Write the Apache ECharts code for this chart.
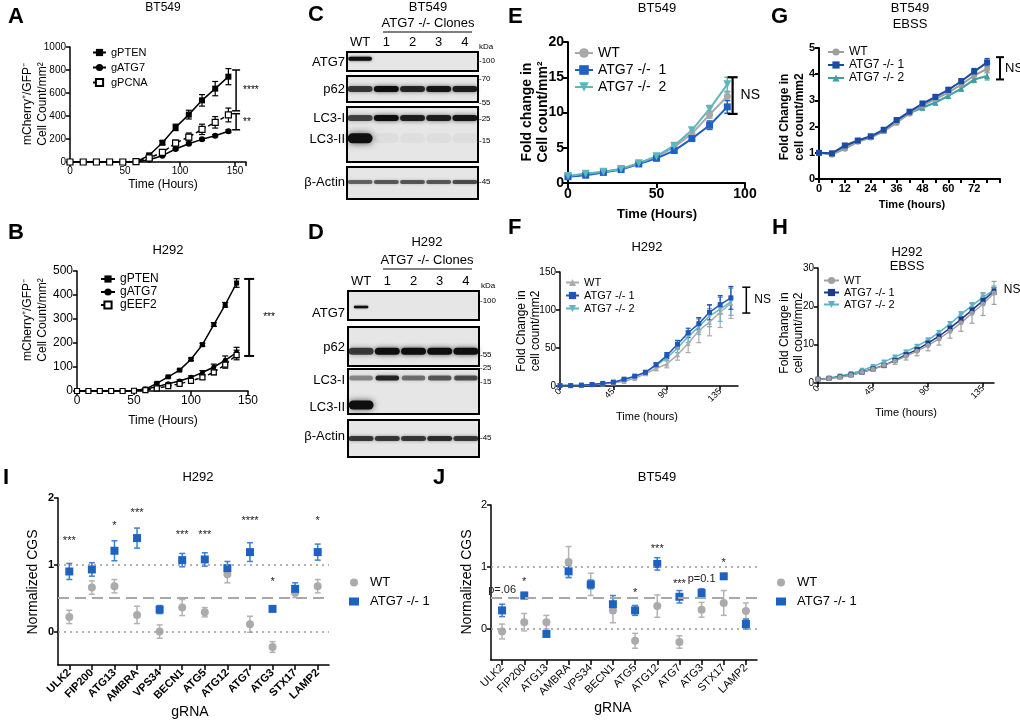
<!DOCTYPE html>
<html><head><meta charset="utf-8">
<script src="https://cdn.jsdelivr.net/npm/echarts@6/dist/echarts.min.js"></script>
<style>html,body{margin:0;padding:0;background:#fff}#c{width:1020px;height:721px}</style>
</head><body><div id="c"></div><script>
// ---------------- DATA ----------------
const timeA = [0,12,24,36,48,60,72,84,96,108,120,132,144];
const A_gPTEN = [0,0,0,0,0,2,58,168,301,412,536,638,742];
const A_gPTEN_err = [0,0,0,0,0,3,12,18,28,38,50,62,70];
const A_gATG7 = [0,0,0,0,0,1,20,55,113,159,197,229,267];
const A_gATG7_err = [0,0,0,0,0,2,4,6,8,9,10,10,12];
const A_gPCNA = [0,0,0,0,0,3,35,84,165,217,284,345,409];
const A_gPCNA_err = [0,0,0,0,0,3,8,15,25,35,45,50,60];
const A_brackets = [[151,800,445],[151,420,280]];
const A_bracketLabels = ['****','**'];

const timeB = [0,10,20,30,40,50,60,70,80,90,100,110,120,130,140];
const B_gPTEN = [0,0,0,0,0,2,8,32,59,87,132,193,277,359,450];
const B_gPTEN_err = [0,0,0,0,0,1,2,3,3,4,5,6,8,10,18];
const B_gATG7 = [0,0,0,0,0,1,8,18,30,42,57,77,100,128,160];
const B_gATG7_err = [0,0,0,0,0,1,2,3,4,5,6,8,12,18,22];
const B_gEEF2 = [0,0,0,0,0,1,4,11,20,30,42,57,78,110,150];
const B_gEEF2_err = [0,0,0,0,0,1,2,3,4,5,6,8,10,15,20];
const B_brackets = [[151,467,146]];
const B_bracketLabels = ['***'];

const lanes = ['WT','1','2','3','4'];
const C_ATG7 = [1.0,0,0,0,0];
const C_p62 = [0.75,1.0,0.85,0.95,0.9];
const C_LC3I = [0.7,1.0,0.9,0.9,0.95];
const C_LC3II = [1.0,0.04,0.03,0.03,0.03];
const C_actin = [0.55,0.6,0.6,0.6,0.65];
const D_ATG7 = [1.0,0,0,0,0];
const D_p62 = [0.75,1.0,1.0,1.0,1.0];
const D_LC3I = [0.4,0.85,0.5,0.6,0.65];
const D_LC3II = [1.0,0,0,0,0];
const D_actin = [0.75,0.75,0.75,0.8,0.75];

const timeE = [0,10,20,30,40,50,60,70,80,90];
const E_WT = [1.0,1.3,1.6,2.0,2.8,3.7,5.1,7.0,9.7,12.3];
const E_WT_err = [0.05,0.1,0.1,0.1,0.15,0.2,0.25,0.35,0.5,0.6];
const E_A1 = [0.9,1.1,1.5,1.9,2.7,3.5,4.6,6.3,8.2,10.8];
const E_A1_err = [0.05,0.1,0.1,0.1,0.15,0.2,0.25,0.35,0.6,0.9];
const E_A2 = [1.0,1.3,1.6,2.0,2.8,3.8,5.3,7.5,10.5,14.0];
const E_A2_err = [0.05,0.1,0.1,0.1,0.15,0.2,0.25,0.35,0.5,1.0];
const E_brackets = [[93,15.0,9.8]];
const E_bracketLabels = ['NS'];

const timeF = [0,9,18,27,36,45,54,63,72,81,90,99,108,117,126,135,144];
const F_WT = [0.5,0.7,1,1.5,2.5,4,6,10,16,23,29,41,56,73,84,97,109];
const F_WT_err = [0,0,0,0.3,0.5,0.5,1,1.5,2,3,5,7,12,16,18,20,20];
const F_A1 = [0.5,0.5,1,2,3.5,5,9,13,18,28,40,55,70,82,97,107,116];
const F_A1_err = [0,0,0,0.3,0.5,0.5,1,1,2,2,4,5,6,8,10,12,15];
const F_A2 = [0.5,0.5,1,2,3,5,8,12,18,27,37,50,65,78,92,101,111];
const F_A2_err = [0,0,0,0.3,0.5,0.5,1,1,2,3,4,6,8,10,14,16,18];
const F_brackets = [[157,130,96]];
const F_bracketLabels = ['NS'];

const timeG = [0,6,12,18,24,30,36,42,48,54,60,66,72,78];
const G_WT = [1.0,0.93,1.15,1.42,1.58,1.82,2.15,2.5,2.8,3.05,3.3,3.6,3.95,4.2];
const G_A1 = [1.0,0.98,1.28,1.47,1.63,1.88,2.25,2.57,2.88,3.13,3.4,3.73,4.1,4.45];
const G_A2 = [1.0,0.95,1.2,1.45,1.6,1.83,2.18,2.52,2.72,2.92,3.17,3.45,3.8,3.93];
const G_err = [0.04,0.04,0.06,0.06,0.06,0.06,0.08,0.08,0.08,0.1,0.1,0.1,0.12,0.15];
const G_brackets = [[84,4.65,3.8]];
const G_bracketLabels = ['NS'];

const timeH = [0,9,18,27,36,45,54,63,72,81,90,99,108,117,126,135,144];
const H_WT = [1,1.2,1.5,2,2.8,3.6,4.6,5.7,7.0,8.3,9.8,11.5,13.5,15.7,18.2,20.6,23.5];
const H_WT_err = [0.2,0.2,0.3,0.3,0.4,0.5,0.6,0.8,1.0,1.2,1.4,1.6,1.8,2.2,2.6,3.0,3.0];
const H_A1 = [1,1.2,1.6,2.1,2.8,3.7,4.6,5.9,7.4,8.7,10.4,12.2,14.3,16.6,19.0,21.5,24.0];
const H_A1_err = [0.1,0.1,0.1,0.2,0.2,0.2,0.3,0.3,0.4,0.4,0.5,0.5,0.6,0.7,0.8,0.9,0.9];
const H_A2 = [1,1.3,1.8,2.5,3.3,4.3,5.5,6.8,8.1,9.6,11.2,13.2,15.4,17.9,20.2,22.4,24.3];
const H_A2_err = [0.1,0.1,0.1,0.2,0.2,0.2,0.3,0.3,0.4,0.4,0.5,0.5,0.6,0.7,0.8,0.9,1.0];
const H_text = [[152,24.3]];
const H_textLabels = ['NS'];

const gRNAs = ['ULK2','FIP200','ATG13','AMBRA','VPS34','BECN1','ATG5','ATG12','ATG7','ATG3','STX17','LAMP2'];
const I_WT = [0.22,0.66,0.68,0.25,0.0,0.36,0.29,0.86,0.11,-0.23,0.58,0.68];
const I_WT_err = [0.1,0.1,0.1,0.13,0.1,0.12,0.07,0.13,0.12,0.08,0.07,0.1];
const I_KO = [0.90,0.93,1.21,1.40,0.33,1.07,1.08,0.95,1.19,0.34,0.64,1.19];
const I_KO_err = [0.12,0.1,0.15,0.15,0.06,0.1,0.1,0.1,0.14,0.03,0.09,0.12];
const I_sig = [[0,1.36],[2,1.58],[3,1.78],[5,1.45],[6,1.45],[8,1.65],[9,0.74],[11,1.65]];
const I_sigLabels = ['***','*','***','***','***','****','*','*'];

const J_WT = [-0.04,0.11,0.11,1.08,0.72,0.30,-0.19,0.37,-0.21,0.31,0.42,0.29];
const J_WT_err = [0.12,0.14,0.11,0.25,0.18,0.2,0.12,0.18,0.1,0.12,0.2,0.13];
const J_KO = [0.30,0.54,-0.08,0.93,0.72,0.40,0.30,1.05,0.52,0.58,0.85,0.08];
const J_KO_err = [0.1,0.05,0.02,0.1,0.07,0.14,0.08,0.1,0.1,0.07,0.03,0.08];
const J_sig = [[0,0.63],[1,0.76],[6,0.58],[7,1.29],[8,0.73],[9,0.81],[10,1.07]];
const J_sigLabels = ['p=.06','*','*','***','***','p=0.1','*'];

// ---------------- BUILD ----------------
const FONT = 'Liberation Sans, Arial, sans-serif';
const grids=[], xAxes=[], yAxes=[], series=[], legends=[], graphics=[];
function isObj(o){return o && typeof o==='object' && !Array.isArray(o);}
function merge(a,b){const r=Object.assign({},a);for(const k in (b||{})){r[k]=(isObj(a[k])&&isObj(b[k]))?merge(a[k],b[k]):b[k];}return r;}
function addGrid(g){grids.push(merge({show:false},g));return grids.length-1;}
function valAxis(gi,min,max,interval,fs,bold,lw,extra){
  return merge({gridIndex:gi,type:'value',min,max,interval,splitLine:{show:false},
    axisLine:{show:true,onZero:false,lineStyle:{color:'#000',width:lw}},
    axisTick:{show:true,length:4,lineStyle:{color:'#000',width:lw}},
    axisLabel:{color:'#000',fontSize:fs,fontWeight:bold?'bold':'normal',fontFamily:FONT,margin:4,formatter:v=>String(v)}},extra);
}
function addAxes(xa,ya){xAxes.push(xa);yAxes.push(ya);return [xAxes.length-1,yAxes.length-1];}
function lineS(name,ax,xs,ys,color,symbol,size,lw,extra){
  series.push(merge({type:'line',name,xAxisIndex:ax[0],yAxisIndex:ax[1],data:xs.map((x,i)=>[x,ys[i]]),
    symbol,symbolSize:size,showSymbol:true,z:4,lineStyle:{color,width:lw},itemStyle:{color,borderColor:color,borderWidth:0}},extra));
}
function scatterS(name,ax,ys,color,symbol,size){
  series.push({type:'scatter',name,xAxisIndex:ax[0],yAxisIndex:ax[1],data:ys.map((y,i)=>[i,y]),symbol,symbolSize:size,z:4,itemStyle:{color,opacity:1}});
}
function errS(ax,xs,ys,es,color,cap,lw){
  series.push({type:'custom',xAxisIndex:ax[0],yAxisIndex:ax[1],silent:true,z:3,clip:false,
    data:xs.map((x,i)=>[x,ys[i]-es[i],ys[i]+es[i]]),
    renderItem:(p,api)=>{
      const lo=api.coord([api.value(0),api.value(1)]),hi=api.coord([api.value(0),api.value(2)]);
      const st={stroke:color,lineWidth:lw};
      return {type:'group',children:[
        {type:'line',shape:{x1:lo[0],y1:lo[1],x2:hi[0],y2:hi[1]},style:st},
        {type:'line',shape:{x1:lo[0]-cap,y1:lo[1],x2:lo[0]+cap,y2:lo[1]},style:st},
        {type:'line',shape:{x1:hi[0]-cap,y1:hi[1],x2:hi[0]+cap,y2:hi[1]},style:st}]};
    }});
}
function bracketS(ax,pts,labels,o){
  series.push({type:'custom',xAxisIndex:ax[0],yAxisIndex:ax[1],silent:true,z:5,clip:false,data:pts,
    renderItem:(p,api)=>{
      const a=api.coord([api.value(0),api.value(1)]),b=api.coord([api.value(0),api.value(2)]);
      const st={stroke:'#000',lineWidth:o.lw},c=o.cap;
      const ch=[{type:'line',shape:{x1:a[0],y1:a[1],x2:b[0],y2:b[1]},style:st},
        {type:'line',shape:{x1:a[0]-c,y1:a[1],x2:a[0]+c,y2:a[1]},style:st},
        {type:'line',shape:{x1:b[0]-c,y1:b[1],x2:b[0]+c,y2:b[1]},style:st}];
      const lab=labels[p.dataIndex];
      if(lab) ch.push({type:'text',x:a[0]+o.dx,y:(a[1]+b[1])/2+(o.dy||0),style:{text:lab,fontSize:o.fs,fontFamily:FONT,fontWeight:o.bold?'bold':'normal',fill:'#000',align:'left',verticalAlign:'middle'}});
      return {type:'group',children:ch};
    }});
}
function textS(ax,pts,labels,fs,align,color){
  series.push({type:'custom',xAxisIndex:ax[0],yAxisIndex:ax[1],silent:true,z:6,clip:false,data:pts,
    renderItem:(p,api)=>{
      const a=api.coord([api.value(0),api.value(1)]);
      return {type:'text',x:a[0],y:a[1],style:{text:labels[p.dataIndex],fontSize:fs,fontFamily:FONT,fill:color||'#000',align:align||'center',verticalAlign:'middle'}};
    }});
}
function legend(names,left,top,iw,ih,gap,fs,extra){
  legends.push(merge({show:true,orient:'vertical',left,top,itemWidth:iw,itemHeight:ih,itemGap:gap,data:names,selectedMode:false,padding:0,
    formatter:n=>n.split('|')[1],textStyle:{fontSize:fs,fontFamily:FONT,color:'#000'}},extra));
}
function txt(x,y,t,fs,opt){
  opt=opt||{};
  graphics.push({type:'text',x,y,rotation:opt.rot||0,silent:true,style:{text:t,fontSize:fs,fontFamily:FONT,fontWeight:opt.bold?'bold':'normal',fill:'#000',align:opt.align||'center',verticalAlign:'middle',lineHeight:opt.lh||fs*1.2}});
}
function hline(x1,x2,y,lw){graphics.push({type:'line',silent:true,shape:{x1,y1:y,x2,y2:y},style:{stroke:'#000',lineWidth:lw||1}});}

// ---- Panel A ----
{
  const g=addGrid({left:70,top:47,width:176,height:115});
  const ax=addAxes(valAxis(g,0,160,50,10,false,1.5,{axisLabel:{formatter:v=>v===160?'':String(v)}}),valAxis(g,0,1000,200,10,false,1.5));
  errS(ax,timeA,A_gPTEN,A_gPTEN_err,'#000',3,1.2);
  errS(ax,timeA,A_gPCNA,A_gPCNA_err,'#000',3,1.2);
  errS(ax,timeA,A_gATG7,A_gATG7_err,'#000',3,1.2);
  lineS('A|gPTEN',ax,timeA,A_gPTEN,'#000','rect',6,1.5);
  lineS('A|gATG7',ax,timeA,A_gATG7,'#000','circle',6,1.5);
  lineS('A|gPCNA',ax,timeA,A_gPCNA,'#000','rect',6,1.5,{lineStyle:{type:[4,3]},itemStyle:{color:'#fff',borderColor:'#000',borderWidth:1.2}});
  bracketS(ax,A_brackets,A_bracketLabels,{lw:1.5,cap:4,dx:7,fs:10});
  legend(['A|gPTEN','A|gATG7','A|gPCNA'],92,47,13,9,4,11);
  txt(163,8,'BT549',12); txt(163,185,'Time (Hours)',12);
  txt(28,104,'mCherry\u207A/GFP\u207B',12,{rot:Math.PI/2}); txt(43,104,'Cell Count/mm\u00B2',12,{rot:Math.PI/2});
}
// ---- Panel B ----
{
  const g=addGrid({left:77,top:271,width:171,height:120});
  const ax=addAxes(valAxis(g,0,150,50,12,false,1.5),valAxis(g,0,500,100,12,false,1.5));
  errS(ax,timeB,B_gPTEN,B_gPTEN_err,'#000',3,1.2);
  errS(ax,timeB,B_gEEF2,B_gEEF2_err,'#000',3,1.2);
  errS(ax,timeB,B_gATG7,B_gATG7_err,'#000',3,1.2);
  lineS('B|gPTEN',ax,timeB,B_gPTEN,'#000','rect',5,1.5);
  lineS('B|gATG7',ax,timeB,B_gATG7,'#000','circle',5,1.5);
  lineS('B|gEEF2',ax,timeB,B_gEEF2,'#000','rect',5,1.5,{lineStyle:{type:[4,3]},itemStyle:{color:'#fff',borderColor:'#000',borderWidth:1.2}});
  bracketS(ax,B_brackets,B_bracketLabels,{lw:2,cap:5,dx:14,fs:10});
  legend(['B|gPTEN','B|gATG7','B|gEEF2'],100,273,14,9,1,12);
  txt(168,250,'H292',13); txt(163,421,'Time (Hours)',12);
  txt(28,320,'mCherry\u207A/GFP\u207B',12,{rot:Math.PI/2}); txt(43,320,'Cell Count/mm\u00B2',12,{rot:Math.PI/2});
}
// ---- Blots C, D ----
function blotBox(left,top,w,h,rows,showLanes){
  const g=addGrid({show:true,left,top,width:w,height:h,backgroundColor:'#e6e6e6',borderColor:'#000',borderWidth:2});
  xAxes.push({gridIndex:g,type:'category',data:lanes,position:'top',show:!!showLanes,axisLine:{show:false},axisTick:{show:false},
    axisLabel:{interval:0,hideOverlap:false,color:'#000',fontSize:13,fontFamily:FONT,margin:3}});
  yAxes.push({gridIndex:g,type:'value',min:0,max:1,inverse:true,show:false});
  const ax=[xAxes.length-1,yAxes.length-1];
  rows.forEach(r=>{
    const [vals,yc,th,wf]=r;
    series.push({type:'custom',xAxisIndex:ax[0],yAxisIndex:ax[1],silent:true,z:2,data:vals.map((v,i)=>[i,v]),
      renderItem:(p,api)=>{
        const v=api.value(1); if(v<=0) return null;
        const c=api.coord([api.value(0),yc]); const wd=api.size([1,0])[0]*wf;
        return {type:'rect',shape:{x:c[0]-wd/2,y:c[1]-th/2,width:wd,height:th,r:th/2},
          style:{fill:'rgba(15,15,15,'+v+')',shadowBlur:th*0.7,shadowColor:'rgba(15,15,15,'+(v*0.7)+')'}};
      }});
  });
}
{
  blotBox(347,52,131,19,[[C_ATG7,0.35,4,0.9]],true);
  blotBox(347,76,131,26,[[C_p62,0.5,6,0.95]]);
  blotBox(347,107,131,55,[[C_LC3I,0.2,6,0.95],[C_LC3II,0.57,10,0.95]]);
  blotBox(347,167,131,32,[[C_actin,0.47,4,0.95]]);
  txt(308,15,'C',22,{bold:true,align:'left'});
  txt(428,7,'BT549',13); txt(428,23,'ATG7 -/- Clones',13); hline(383,472,32,1);
  txt(486,47,'kDa',8);
  [['ATG7',62],['p62',89],['LC3-I',118],['LC3-II',139],['\u03B2-Actin',182]].forEach(a=>txt(345,a[1],a[0],13,{align:'right'}));
  [['-100',61],['-70',79],['-55',103],['-25',119],['-15',141],['-45',182]].forEach(a=>txt(479,a[1],a[0],8,{align:'left'}));
}
{
  blotBox(348,291,131,29,[[D_ATG7,0.55,2.5,0.55]],true);
  blotBox(348,327,131,39,[[D_p62,0.62,7,0.95]]);
  blotBox(348,369,131,45,[[D_LC3I,0.2,5,0.9],[D_LC3II,0.8,9,0.95]]);
  blotBox(348,420,131,37,[[D_actin,0.5,5,0.95]]);
  txt(308,233,'D',22,{bold:true,align:'left'});
  txt(427,242,'H292',13); txt(427,260,'ATG7 -/- Clones',13); hline(383,472,269,1);
  txt(488,286,'kDa',8);
  [['ATG7',313],['p62',347],['LC3-I',380],['LC3-II',407],['\u03B2-Actin',436]].forEach(a=>txt(345,a[1],a[0],13,{align:'right'}));
  [['-100',301],['-55',355],['-25',368],['-15',382],['-45',438]].forEach(a=>txt(480,a[1],a[0],8,{align:'left'}));
}
// ---- Panel E ----
{
  const g=addGrid({left:568,top:42,width:177,height:141});
  const ax=addAxes(valAxis(g,0,100,50,14,true,2,{axisTick:{length:5}}),valAxis(g,0,20,5,14,true,2,{axisTick:{length:5}}));
  const c=['#A8A8A8','#1F60C4','#5FB7BC'];
  errS(ax,timeE,E_WT,E_WT_err,c[0],3,1.5);
  errS(ax,timeE,E_A1,E_A1_err,c[1],3,1.5);
  errS(ax,timeE,E_A2,E_A2_err,c[2],3,1.5);
  lineS('E|WT',ax,timeE,E_WT,c[0],'circle',7,2);
  lineS('E|ATG7 -/-  1',ax,timeE,E_A1,c[1],'rect',7,2);
  lineS('E|ATG7 -/-  2',ax,timeE,E_A2,c[2],'triangle',8,2,{symbolRotate:180});
  bracketS(ax,E_brackets,E_bracketLabels,{lw:2.2,cap:5,dx:8,fs:14});
  legend(['E|WT','E|ATG7 -/-  1','E|ATG7 -/-  2'],574,46,18,12,3,14);
  txt(508,17,'E',22,{bold:true,align:'left'});
  txt(657,8,'BT549',13); txt(657,214,'Time (Hours)',13,{bold:true});
  txt(527,112,'Fold change in',14,{rot:Math.PI/2,bold:true}); txt(543,112,'Cell count/mm\u00B2',14,{rot:Math.PI/2,bold:true});
}
// ---- Panel F ----
{
  const g=addGrid({left:560,top:272,width:178,height:114});
  const ax=addAxes(valAxis(g,0,150,45,9,false,1.5,{axisLabel:{rotate:45,customValues:[0,45,90,135]},axisTick:{customValues:[0,45,90,135]}}),
                   valAxis(g,0,150,50,10,false,1.5));
  const c=['#ABABAB','#2156B8','#64B4C8'];
  errS(ax,timeF,F_WT,F_WT_err,c[0],2.5,1.2);
  errS(ax,timeF,F_A2,F_A2_err,c[2],2.5,1.2);
  errS(ax,timeF,F_A1,F_A1_err,c[1],2.5,1.2);
  lineS('F|WT',ax,timeF,F_WT,c[0],'triangle',5,1.5);
  lineS('F|ATG7 -/- 2',ax,timeF,F_A2,c[2],'triangle',5,1.5,{symbolRotate:180});
  lineS('F|ATG7 -/- 1',ax,timeF,F_A1,c[1],'rect',5,1.5);
  bracketS(ax,F_brackets,F_bracketLabels,{lw:1.5,cap:4,dx:8,fs:12});
  legend(['F|WT','F|ATG7 -/- 1','F|ATG7 -/- 2'],565,277,13,9,2,11);
  txt(508,228,'F',22,{bold:true,align:'left'});
  txt(647,247,'H292',13); txt(647,417,'Time (hours)',11);
  txt(522,331,'Fold Change in',12,{rot:Math.PI/2}); txt(536,331,'cell count/mm2',12,{rot:Math.PI/2});
}
// ---- Panel G ----
{
  const g=addGrid({left:819,top:48,width:181,height:131});
  const ax=addAxes(valAxis(g,0,84,6,11,true,2,{axisLabel:{formatter:v=>(v%12===0&&v<84)?String(v):''},axisTick:{length:4}}),
                   valAxis(g,0,5,1,11,true,2));
  const c=['#9E9E9E','#1A4BA5','#3D9FA0'];
  errS(ax,timeG,G_A2,G_err,c[2],2.5,1.2);
  errS(ax,timeG,G_WT,G_err,c[0],2.5,1.2);
  errS(ax,timeG,G_A1,G_err,c[1],2.5,1.2);
  lineS('G|ATG7 -/- 2',ax,timeG,G_A2,c[2],'triangle',6,2);
  lineS('G|WT',ax,timeG,G_WT,c[0],'circle',6,2);
  lineS('G|ATG7 -/- 1',ax,timeG,G_A1,c[1],'rect',6,2);
  bracketS(ax,G_brackets,G_bracketLabels,{lw:2,cap:4,dx:5,fs:13});
  legend(['G|WT','G|ATG7 -/- 1','G|ATG7 -/- 2'],827,46,16,9,1,12);
  txt(771,17,'G',22,{bold:true,align:'left'});
  txt(910,8,'BT549',13); txt(910,24,'EBSS',13); txt(912,205,'Time (hours)',11,{bold:true});
  txt(785,117,'Fold Change in',12,{rot:Math.PI/2,bold:true}); txt(800,117,'cell count/mm2',12,{rot:Math.PI/2,bold:true});
}
// ---- Panel H ----
{
  const g=addGrid({left:818,top:268,width:176,height:115});
  const ax=addAxes(valAxis(g,0,144,9,9,false,1.5,{axisLabel:{rotate:45,customValues:[0,45,90,135]},axisTick:{customValues:[0,45,90,135]}}),
                   valAxis(g,0,30,10,10,false,1.5));
  const c=['#A0A0A0','#1B3A8C','#58B5C6'];
  errS(ax,timeH,H_A2,H_A2_err,c[2],2.5,1.2);
  errS(ax,timeH,H_A1,H_A1_err,c[1],2.5,1.2);
  errS(ax,timeH,H_WT,H_WT_err,c[0],2.5,1.2);
  lineS('H|ATG7 -/- 2',ax,timeH,H_A2,c[2],'triangle',5,1.5,{symbolRotate:180});
  lineS('H|ATG7 -/- 1',ax,timeH,H_A1,c[1],'rect',5,1.5);
  lineS('H|WT',ax,timeH,H_WT,c[0],'circle',5,1.5);
  textS(ax,H_text,H_textLabels,12,'left');
  legend(['H|WT','H|ATG7 -/- 1','H|ATG7 -/- 2'],823,275,15,9,1,11);
  txt(772,228,'H',22,{bold:true,align:'left'});
  txt(907,252,'H292',13); txt(907,266,'EBSS',13); txt(906,413,'Time (hours)',11);
  txt(785,333,'Fold Change in',12,{rot:Math.PI/2}); txt(799,333,'cell count/mm2',12,{rot:Math.PI/2});
}
// ---- Panels I, J ----
function cgsPanel(pfx,gdef,WT,WTe,KO,KOe,sig,sigL,boldX,legLeft,legTop){
  const g=addGrid(gdef);
  const xa={gridIndex:g,type:'category',data:gRNAs,boundaryGap:true,
    axisLine:{show:true,onZero:false,lineStyle:{color:'#000',width:1.5}},
    axisTick:{show:true,alignWithLabel:true,length:5,lineStyle:{color:'#000',width:1.5}},
    axisLabel:{interval:0,rotate:45,color:'#000',fontSize:11,fontWeight:boldX?'bold':'normal',fontFamily:FONT,margin:6}};
  const ya=valAxis(g,-0.5,2,0.5,11,boldX,1.5,{axisLabel:{customValues:[0,1,2],formatter:v=>Number.isInteger(v)?String(v):''},axisTick:{customValues:[0,1,2]}});
  const ax=addAxes(xa,ya);
  const idx=gRNAs.map((_,i)=>i);
  series.push({type:'scatter',xAxisIndex:ax[0],yAxisIndex:ax[1],data:[],silent:true,z:1,
    markLine:{silent:true,symbol:'none',label:{show:false},animation:false,data:[
      {yAxis:1,lineStyle:{type:[2,4],color:'#999',width:1.5}},
      {yAxis:0,lineStyle:{type:[2,4],color:'#999',width:1.5}},
      {yAxis:0.5,lineStyle:{type:[11,6],color:'#a8a8a8',width:2}}]}});
  errS(ax,idx,WT,WTe,'#b3b3b3',3,1.5);
  scatterS(pfx+'|WT',ax,WT,'#ABABAB','circle',8);
  errS(ax,idx,KO,KOe,'#3f80d6',3,1.5);
  scatterS(pfx+'|ATG7 -/- 1',ax,KO,'#1E62C0','rect',8);
  textS(ax,sig,sigL,11,'center','#222');
  legend([pfx+'|WT',pfx+'|ATG7 -/- 1'],legLeft,legTop,10,8,6,13,{textStyle:{padding:[0,0,0,6]}});
}
cgsPanel('I',{left:58,top:498,width:271,height:167},I_WT,I_WT_err,I_KO,I_KO_err,I_sig,I_sigLabels,true,349,576);
cgsPanel('J',{left:491,top:505,width:266,height:155},J_WT,J_WT_err,J_KO,J_KO_err,J_sig,J_sigLabels,false,776,576);
txt(3,478,'I',22,{bold:true,align:'left'}); txt(198,477,'H292',13);
txt(190,712,'gRNA',14); txt(33,582,'Normalized CGS',14,{rot:Math.PI/2});
txt(433,478,'J',22,{bold:true,align:'left'}); txt(657,477,'BT549',13);
txt(613,708,'gRNA',14); txt(467,582,'Normalized CGS',14,{rot:Math.PI/2});
txt(8,17,'A',22,{bold:true,align:'left'}); txt(8,233,'B',22,{bold:true,align:'left'});

const chart=echarts.init(document.getElementById('c'),null,{renderer:'canvas'});
chart.setOption({animation:false,backgroundColor:'#fff',textStyle:{fontFamily:FONT},
  grid:grids,xAxis:xAxes,yAxis:yAxes,series,legend:legends,graphic:{elements:graphics}});
</script></body></html>
